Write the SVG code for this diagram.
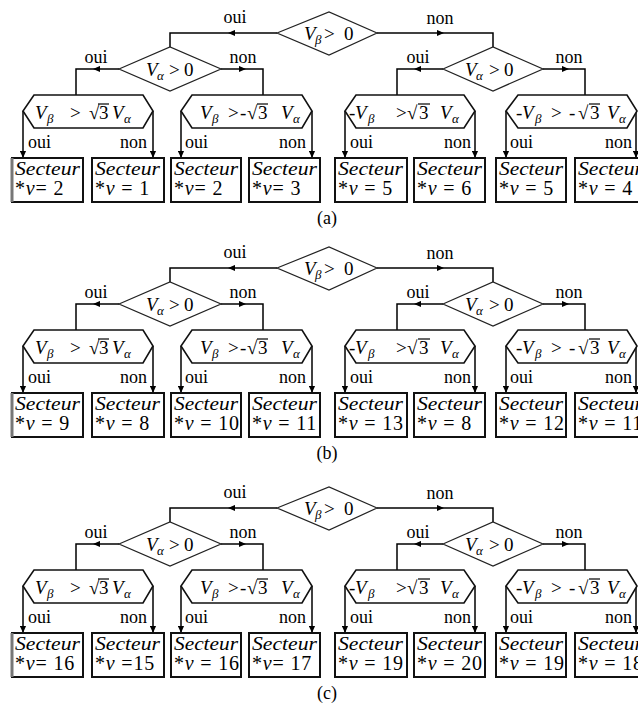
<svg xmlns="http://www.w3.org/2000/svg" width="638" height="704" viewBox="0 0 638 704">
<defs>
<style>
.ln{fill:none;stroke:#000;stroke-width:1.5}
.dm{fill:#fff;stroke:#222;stroke-width:1.2}
.hx{fill:#fff;stroke:#111;stroke-width:1.6}
.bx{fill:#fff;stroke:#111;stroke-width:2}
.ov{stroke:#000;stroke-width:1.2}
.t{font-family:"Liberation Serif","Times New Roman",serif;fill:#000}
.lab{font-size:18px}
.ex{font-size:19px}
.it{font-style:italic}
.sub{font-size:13px;font-style:italic}
.sec{font-size:18px;font-style:italic}
.num{font-size:20px;letter-spacing:0.8px}
.cap{font-size:18px}
</style>
<marker id="ah" viewBox="0 0 8 8" refX="8" refY="4" markerWidth="7" markerHeight="7" markerUnits="userSpaceOnUse" orient="auto"><path d="M0,0.5 L8,4 L0,7.5 z" fill="#000"/></marker>
</defs>
<rect width="638" height="704" fill="#fff"/>

<!-- ===== Panel (a) ===== -->
<g id="panel-a">
<g id="a-connectors">
<path class="ln" d="M277,33 H228" marker-end="url(#ah)"/><path class="ln" d="M228,33 H170 V47"/>
<path class="ln" d="M377,33 H444" marker-end="url(#ah)"/><path class="ln" d="M444,33 H493 V47"/>
<path class="ln" d="M119,69 H93" marker-end="url(#ah)"/><path class="ln" d="M93,69 H76 V95"/>
<path class="ln" d="M221,69 H246" marker-end="url(#ah)"/><path class="ln" d="M246,69 H263 V95"/>
<path class="ln" d="M443,69 H414" marker-end="url(#ah)"/><path class="ln" d="M414,69 H397 V95"/>
<path class="ln" d="M543,69 H569" marker-end="url(#ah)"/><path class="ln" d="M569,69 H585 V95"/>
<path class="ln" d="M23,111 V158" marker-end="url(#ah)"/>
<path class="ln" d="M153,111 V158" marker-end="url(#ah)"/>
<path class="ln" d="M181,111 V158" marker-end="url(#ah)"/>
<path class="ln" d="M312,111 V158" marker-end="url(#ah)"/>
<path class="ln" d="M345,111 V158" marker-end="url(#ah)"/>
<path class="ln" d="M475,111 V158" marker-end="url(#ah)"/>
<path class="ln" d="M506,111 V158" marker-end="url(#ah)"/>
<path class="ln" d="M636,111 V158" marker-end="url(#ah)"/>
<text class="t lab" x="235" y="23" text-anchor="middle">oui</text>
<text class="t lab" x="440" y="24" text-anchor="middle">non</text>
<text class="t lab" x="96" y="63" text-anchor="middle">oui</text>
<text class="t lab" x="243" y="63" text-anchor="middle">non</text>
<text class="t lab" x="418" y="63" text-anchor="middle">oui</text>
<text class="t lab" x="569" y="63" text-anchor="middle">non</text>
<text class="t lab" x="28" y="148">oui</text><text class="t lab" x="147" y="148" text-anchor="end">non</text>
<text class="t lab" x="185" y="148">oui</text><text class="t lab" x="306" y="148" text-anchor="end">non</text>
<text class="t lab" x="350" y="148">oui</text><text class="t lab" x="471" y="148" text-anchor="end">non</text>
<text class="t lab" x="510" y="148">oui</text><text class="t lab" x="632" y="148" text-anchor="end">non</text>
</g>
<g id="a-d0"><polygon class="dm" points="277,33 329,12 377,33 329,55"/>
<text class="t ex" y="40"><tspan class="it" x="304">V</tspan><tspan class="sub" x="315" y="44">β</tspan><tspan x="324" y="40">&gt;</tspan><tspan x="344">0</tspan></text></g>
<g id="a-d1"><polygon class="dm" points="119,69 170,47 221,69 170,91"/>
<text class="t ex" y="76"><tspan class="it" x="146">V</tspan><tspan class="sub" x="157" y="80">α</tspan><tspan x="169" y="76">&gt;</tspan><tspan x="184">0</tspan></text></g>
<g id="a-d2"><polygon class="dm" points="443,69 493,47 543,69 493,91"/>
<text class="t ex" y="76"><tspan class="it" x="465">V</tspan><tspan class="sub" x="476" y="80">α</tspan><tspan x="489" y="76">&gt;</tspan><tspan x="504">0</tspan></text></g>
<g id="a-h1"><polygon class="hx" points="34,95 143,95 153,111 143,128 34,128 23,111"/>
<text class="t ex" y="119"><tspan class="it" x="35">V</tspan><tspan class="sub" x="47" y="123">β</tspan><tspan x="70" y="119">&gt;</tspan><tspan x="89">√</tspan><tspan x="99">3</tspan><tspan class="it" x="112">V</tspan><tspan class="sub" x="124" y="123">α</tspan></text>
<line class="ov" x1="98" y1="104" x2="109" y2="104"/></g>
<g id="a-h2"><polygon class="hx" points="192,95 302,95 312,111 302,128 192,128 181,111"/>
<text class="t ex" y="119"><tspan class="it" x="200">V</tspan><tspan class="sub" x="212" y="123">β</tspan><tspan x="228" y="119">&gt;</tspan><tspan x="240">-</tspan><tspan x="247">√</tspan><tspan x="258">3</tspan><tspan class="it" x="281">V</tspan><tspan class="sub" x="293" y="123">α</tspan></text>
<line class="ov" x1="257" y1="104" x2="268" y2="104"/></g>
<g id="a-h3"><polygon class="hx" points="356,95 464,95 475,111 464,128 356,128 345,111"/>
<text class="t ex" y="119"><tspan x="349">-</tspan><tspan class="it" x="355">V</tspan><tspan class="sub" x="368" y="123">β</tspan><tspan x="396" y="119">&gt;</tspan><tspan x="407">√</tspan><tspan x="419">3</tspan><tspan class="it" x="440">V</tspan><tspan class="sub" x="452" y="123">α</tspan></text>
<line class="ov" x1="418" y1="104" x2="430" y2="104"/></g>
<g id="a-h4"><polygon class="hx" points="518,95 627,95 637,111 627,128 518,128 506,111"/>
<text class="t ex" y="119"><tspan x="516">-</tspan><tspan class="it" x="522">V</tspan><tspan class="sub" x="535" y="123">β</tspan><tspan x="551" y="119">&gt;</tspan><tspan x="569">-</tspan><tspan x="578">√</tspan><tspan x="590">3</tspan><tspan class="it" x="607">V</tspan><tspan class="sub" x="619" y="123">α</tspan></text>
<line class="ov" x1="589" y1="104" x2="600" y2="104"/></g>
<g id="a-b1"><rect class="bx" x="12" y="158" width="71" height="44"/><line x1="12" y1="158" x2="12" y2="202" stroke="#777" stroke-width="3"/>
<text class="t sec" x="15" y="175" textLength="65" lengthAdjust="spacingAndGlyphs">Secteur</text><text class="t num" x="15" y="195">*<tspan class="it">v</tspan>= 2</text></g>
<g id="a-b2"><rect class="bx" x="92" y="158" width="72" height="44"/>
<text class="t sec" x="95" y="175" textLength="65" lengthAdjust="spacingAndGlyphs">Secteur</text><text class="t num" x="95" y="195">*<tspan class="it">v</tspan> = 1</text></g>
<g id="a-b3"><rect class="bx" x="171" y="158" width="70" height="44"/>
<text class="t sec" x="174" y="175" textLength="64" lengthAdjust="spacingAndGlyphs">Secteur</text><text class="t num" x="174" y="195">*<tspan class="it">v</tspan>= 2</text></g>
<g id="a-b4"><rect class="bx" x="249" y="158" width="71" height="44"/>
<text class="t sec" x="252" y="175" textLength="65" lengthAdjust="spacingAndGlyphs">Secteur</text><text class="t num" x="252" y="195">*<tspan class="it">v</tspan>= 3</text></g>
<g id="a-b5"><rect class="bx" x="335" y="158" width="72" height="44"/>
<text class="t sec" x="338" y="175" textLength="65" lengthAdjust="spacingAndGlyphs">Secteur</text><text class="t num" x="338" y="195">*<tspan class="it">v</tspan> = 5</text></g>
<g id="a-b6"><rect class="bx" x="414" y="158" width="71" height="44"/>
<text class="t sec" x="417" y="175" textLength="65" lengthAdjust="spacingAndGlyphs">Secteur</text><text class="t num" x="417" y="195">*<tspan class="it">v</tspan> = 6</text></g>
<g id="a-b7"><rect class="bx" x="496" y="158" width="70" height="44"/>
<text class="t sec" x="499" y="175" textLength="64" lengthAdjust="spacingAndGlyphs">Secteur</text><text class="t num" x="499" y="195">*<tspan class="it">v</tspan> = 5</text></g>
<g id="a-b8"><rect class="bx" x="575" y="158" width="72" height="44"/>
<text class="t sec" x="578" y="175" textLength="65" lengthAdjust="spacingAndGlyphs">Secteur</text><text class="t num" x="578" y="195">*<tspan class="it">v</tspan> = 4</text></g>
<text class="t cap" x="327" y="224" text-anchor="middle">(a)</text>
</g>

<!-- ===== Panel (b) ===== -->
<g id="panel-b" transform="translate(0,235)">
<g id="b-connectors">
<path class="ln" d="M277,33 H228" marker-end="url(#ah)"/><path class="ln" d="M228,33 H170 V47"/>
<path class="ln" d="M377,33 H444" marker-end="url(#ah)"/><path class="ln" d="M444,33 H493 V47"/>
<path class="ln" d="M119,69 H93" marker-end="url(#ah)"/><path class="ln" d="M93,69 H76 V95"/>
<path class="ln" d="M221,69 H246" marker-end="url(#ah)"/><path class="ln" d="M246,69 H263 V95"/>
<path class="ln" d="M443,69 H414" marker-end="url(#ah)"/><path class="ln" d="M414,69 H397 V95"/>
<path class="ln" d="M543,69 H569" marker-end="url(#ah)"/><path class="ln" d="M569,69 H585 V95"/>
<path class="ln" d="M23,111 V158" marker-end="url(#ah)"/>
<path class="ln" d="M153,111 V158" marker-end="url(#ah)"/>
<path class="ln" d="M181,111 V158" marker-end="url(#ah)"/>
<path class="ln" d="M312,111 V158" marker-end="url(#ah)"/>
<path class="ln" d="M345,111 V158" marker-end="url(#ah)"/>
<path class="ln" d="M475,111 V158" marker-end="url(#ah)"/>
<path class="ln" d="M506,111 V158" marker-end="url(#ah)"/>
<path class="ln" d="M636,111 V158" marker-end="url(#ah)"/>
<text class="t lab" x="235" y="23" text-anchor="middle">oui</text>
<text class="t lab" x="440" y="24" text-anchor="middle">non</text>
<text class="t lab" x="96" y="63" text-anchor="middle">oui</text>
<text class="t lab" x="243" y="63" text-anchor="middle">non</text>
<text class="t lab" x="418" y="63" text-anchor="middle">oui</text>
<text class="t lab" x="569" y="63" text-anchor="middle">non</text>
<text class="t lab" x="28" y="148">oui</text><text class="t lab" x="147" y="148" text-anchor="end">non</text>
<text class="t lab" x="185" y="148">oui</text><text class="t lab" x="306" y="148" text-anchor="end">non</text>
<text class="t lab" x="350" y="148">oui</text><text class="t lab" x="471" y="148" text-anchor="end">non</text>
<text class="t lab" x="510" y="148">oui</text><text class="t lab" x="632" y="148" text-anchor="end">non</text>
</g>
<g id="b-d0"><polygon class="dm" points="277,33 329,12 377,33 329,55"/>
<text class="t ex" y="40"><tspan class="it" x="304">V</tspan><tspan class="sub" x="315" y="44">β</tspan><tspan x="324" y="40">&gt;</tspan><tspan x="344">0</tspan></text></g>
<g id="b-d1"><polygon class="dm" points="119,69 170,47 221,69 170,91"/>
<text class="t ex" y="76"><tspan class="it" x="146">V</tspan><tspan class="sub" x="157" y="80">α</tspan><tspan x="169" y="76">&gt;</tspan><tspan x="184">0</tspan></text></g>
<g id="b-d2"><polygon class="dm" points="443,69 493,47 543,69 493,91"/>
<text class="t ex" y="76"><tspan class="it" x="465">V</tspan><tspan class="sub" x="476" y="80">α</tspan><tspan x="489" y="76">&gt;</tspan><tspan x="504">0</tspan></text></g>
<g id="b-h1"><polygon class="hx" points="34,95 143,95 153,111 143,128 34,128 23,111"/>
<text class="t ex" y="119"><tspan class="it" x="35">V</tspan><tspan class="sub" x="47" y="123">β</tspan><tspan x="70" y="119">&gt;</tspan><tspan x="89">√</tspan><tspan x="99">3</tspan><tspan class="it" x="112">V</tspan><tspan class="sub" x="124" y="123">α</tspan></text>
<line class="ov" x1="98" y1="104" x2="109" y2="104"/></g>
<g id="b-h2"><polygon class="hx" points="192,95 302,95 312,111 302,128 192,128 181,111"/>
<text class="t ex" y="119"><tspan class="it" x="200">V</tspan><tspan class="sub" x="212" y="123">β</tspan><tspan x="228" y="119">&gt;</tspan><tspan x="240">-</tspan><tspan x="247">√</tspan><tspan x="258">3</tspan><tspan class="it" x="281">V</tspan><tspan class="sub" x="293" y="123">α</tspan></text>
<line class="ov" x1="257" y1="104" x2="268" y2="104"/></g>
<g id="b-h3"><polygon class="hx" points="356,95 464,95 475,111 464,128 356,128 345,111"/>
<text class="t ex" y="119"><tspan x="349">-</tspan><tspan class="it" x="355">V</tspan><tspan class="sub" x="368" y="123">β</tspan><tspan x="396" y="119">&gt;</tspan><tspan x="407">√</tspan><tspan x="419">3</tspan><tspan class="it" x="440">V</tspan><tspan class="sub" x="452" y="123">α</tspan></text>
<line class="ov" x1="418" y1="104" x2="430" y2="104"/></g>
<g id="b-h4"><polygon class="hx" points="518,95 627,95 637,111 627,128 518,128 506,111"/>
<text class="t ex" y="119"><tspan x="516">-</tspan><tspan class="it" x="522">V</tspan><tspan class="sub" x="535" y="123">β</tspan><tspan x="551" y="119">&gt;</tspan><tspan x="569">-</tspan><tspan x="578">√</tspan><tspan x="590">3</tspan><tspan class="it" x="607">V</tspan><tspan class="sub" x="619" y="123">α</tspan></text>
<line class="ov" x1="589" y1="104" x2="600" y2="104"/></g>
<g id="b-b1"><rect class="bx" x="12" y="158" width="71" height="44"/><line x1="12" y1="158" x2="12" y2="202" stroke="#777" stroke-width="3"/>
<text class="t sec" x="15" y="175" textLength="65" lengthAdjust="spacingAndGlyphs">Secteur</text><text class="t num" x="15" y="195">*<tspan class="it">v</tspan> = 9</text></g>
<g id="b-b2"><rect class="bx" x="92" y="158" width="72" height="44"/>
<text class="t sec" x="95" y="175" textLength="65" lengthAdjust="spacingAndGlyphs">Secteur</text><text class="t num" x="95" y="195">*<tspan class="it">v</tspan> = 8</text></g>
<g id="b-b3"><rect class="bx" x="171" y="158" width="70" height="44"/>
<text class="t sec" x="174" y="175" textLength="64" lengthAdjust="spacingAndGlyphs">Secteur</text><text class="t num" x="174" y="195">*<tspan class="it">v</tspan> = 10</text></g>
<g id="b-b4"><rect class="bx" x="249" y="158" width="71" height="44"/>
<text class="t sec" x="252" y="175" textLength="65" lengthAdjust="spacingAndGlyphs">Secteur</text><text class="t num" x="252" y="195">*<tspan class="it">v</tspan> = 11</text></g>
<g id="b-b5"><rect class="bx" x="335" y="158" width="72" height="44"/>
<text class="t sec" x="338" y="175" textLength="65" lengthAdjust="spacingAndGlyphs">Secteur</text><text class="t num" x="338" y="195">*<tspan class="it">v</tspan> = 13</text></g>
<g id="b-b6"><rect class="bx" x="414" y="158" width="71" height="44"/>
<text class="t sec" x="417" y="175" textLength="65" lengthAdjust="spacingAndGlyphs">Secteur</text><text class="t num" x="417" y="195">*<tspan class="it">v</tspan> = 8</text></g>
<g id="b-b7"><rect class="bx" x="496" y="158" width="70" height="44"/>
<text class="t sec" x="499" y="175" textLength="64" lengthAdjust="spacingAndGlyphs">Secteur</text><text class="t num" x="499" y="195">*<tspan class="it">v</tspan> = 12</text></g>
<g id="b-b8"><rect class="bx" x="575" y="158" width="72" height="44"/>
<text class="t sec" x="578" y="175" textLength="65" lengthAdjust="spacingAndGlyphs">Secteur</text><text class="t num" x="578" y="195">*<tspan class="it">v</tspan> = 11</text></g>
<text class="t cap" x="327" y="224" text-anchor="middle">(b)</text>
</g>

<!-- ===== Panel (c) ===== -->
<g id="panel-c" transform="translate(0,475)">
<g id="c-connectors">
<path class="ln" d="M277,33 H228" marker-end="url(#ah)"/><path class="ln" d="M228,33 H170 V47"/>
<path class="ln" d="M377,33 H444" marker-end="url(#ah)"/><path class="ln" d="M444,33 H493 V47"/>
<path class="ln" d="M119,69 H93" marker-end="url(#ah)"/><path class="ln" d="M93,69 H76 V95"/>
<path class="ln" d="M221,69 H246" marker-end="url(#ah)"/><path class="ln" d="M246,69 H263 V95"/>
<path class="ln" d="M443,69 H414" marker-end="url(#ah)"/><path class="ln" d="M414,69 H397 V95"/>
<path class="ln" d="M543,69 H569" marker-end="url(#ah)"/><path class="ln" d="M569,69 H585 V95"/>
<path class="ln" d="M23,111 V158" marker-end="url(#ah)"/>
<path class="ln" d="M153,111 V158" marker-end="url(#ah)"/>
<path class="ln" d="M181,111 V158" marker-end="url(#ah)"/>
<path class="ln" d="M312,111 V158" marker-end="url(#ah)"/>
<path class="ln" d="M345,111 V158" marker-end="url(#ah)"/>
<path class="ln" d="M475,111 V158" marker-end="url(#ah)"/>
<path class="ln" d="M506,111 V158" marker-end="url(#ah)"/>
<path class="ln" d="M636,111 V158" marker-end="url(#ah)"/>
<text class="t lab" x="235" y="23" text-anchor="middle">oui</text>
<text class="t lab" x="440" y="24" text-anchor="middle">non</text>
<text class="t lab" x="96" y="63" text-anchor="middle">oui</text>
<text class="t lab" x="243" y="63" text-anchor="middle">non</text>
<text class="t lab" x="418" y="63" text-anchor="middle">oui</text>
<text class="t lab" x="569" y="63" text-anchor="middle">non</text>
<text class="t lab" x="28" y="148">oui</text><text class="t lab" x="147" y="148" text-anchor="end">non</text>
<text class="t lab" x="185" y="148">oui</text><text class="t lab" x="306" y="148" text-anchor="end">non</text>
<text class="t lab" x="350" y="148">oui</text><text class="t lab" x="471" y="148" text-anchor="end">non</text>
<text class="t lab" x="510" y="148">oui</text><text class="t lab" x="632" y="148" text-anchor="end">non</text>
</g>
<g id="c-d0"><polygon class="dm" points="277,33 329,12 377,33 329,55"/>
<text class="t ex" y="40"><tspan class="it" x="304">V</tspan><tspan class="sub" x="315" y="44">β</tspan><tspan x="324" y="40">&gt;</tspan><tspan x="344">0</tspan></text></g>
<g id="c-d1"><polygon class="dm" points="119,69 170,47 221,69 170,91"/>
<text class="t ex" y="76"><tspan class="it" x="146">V</tspan><tspan class="sub" x="157" y="80">α</tspan><tspan x="169" y="76">&gt;</tspan><tspan x="184">0</tspan></text></g>
<g id="c-d2"><polygon class="dm" points="443,69 493,47 543,69 493,91"/>
<text class="t ex" y="76"><tspan class="it" x="465">V</tspan><tspan class="sub" x="476" y="80">α</tspan><tspan x="489" y="76">&gt;</tspan><tspan x="504">0</tspan></text></g>
<g id="c-h1"><polygon class="hx" points="34,95 143,95 153,111 143,128 34,128 23,111"/>
<text class="t ex" y="119"><tspan class="it" x="35">V</tspan><tspan class="sub" x="47" y="123">β</tspan><tspan x="70" y="119">&gt;</tspan><tspan x="89">√</tspan><tspan x="99">3</tspan><tspan class="it" x="112">V</tspan><tspan class="sub" x="124" y="123">α</tspan></text>
<line class="ov" x1="98" y1="104" x2="109" y2="104"/></g>
<g id="c-h2"><polygon class="hx" points="192,95 302,95 312,111 302,128 192,128 181,111"/>
<text class="t ex" y="119"><tspan class="it" x="200">V</tspan><tspan class="sub" x="212" y="123">β</tspan><tspan x="228" y="119">&gt;</tspan><tspan x="240">-</tspan><tspan x="247">√</tspan><tspan x="258">3</tspan><tspan class="it" x="281">V</tspan><tspan class="sub" x="293" y="123">α</tspan></text>
<line class="ov" x1="257" y1="104" x2="268" y2="104"/></g>
<g id="c-h3"><polygon class="hx" points="356,95 464,95 475,111 464,128 356,128 345,111"/>
<text class="t ex" y="119"><tspan x="349">-</tspan><tspan class="it" x="355">V</tspan><tspan class="sub" x="368" y="123">β</tspan><tspan x="396" y="119">&gt;</tspan><tspan x="407">√</tspan><tspan x="419">3</tspan><tspan class="it" x="440">V</tspan><tspan class="sub" x="452" y="123">α</tspan></text>
<line class="ov" x1="418" y1="104" x2="430" y2="104"/></g>
<g id="c-h4"><polygon class="hx" points="518,95 627,95 637,111 627,128 518,128 506,111"/>
<text class="t ex" y="119"><tspan x="516">-</tspan><tspan class="it" x="522">V</tspan><tspan class="sub" x="535" y="123">β</tspan><tspan x="551" y="119">&gt;</tspan><tspan x="569">-</tspan><tspan x="578">√</tspan><tspan x="590">3</tspan><tspan class="it" x="607">V</tspan><tspan class="sub" x="619" y="123">α</tspan></text>
<line class="ov" x1="589" y1="104" x2="600" y2="104"/></g>
<g id="c-b1"><rect class="bx" x="12" y="158" width="71" height="44"/><line x1="12" y1="158" x2="12" y2="202" stroke="#777" stroke-width="3"/>
<text class="t sec" x="15" y="175" textLength="65" lengthAdjust="spacingAndGlyphs">Secteur</text><text class="t num" x="15" y="195">*<tspan class="it">v</tspan>= 16</text></g>
<g id="c-b2"><rect class="bx" x="92" y="158" width="72" height="44"/>
<text class="t sec" x="95" y="175" textLength="65" lengthAdjust="spacingAndGlyphs">Secteur</text><text class="t num" x="95" y="195">*<tspan class="it">v</tspan> =15</text></g>
<g id="c-b3"><rect class="bx" x="171" y="158" width="70" height="44"/>
<text class="t sec" x="174" y="175" textLength="64" lengthAdjust="spacingAndGlyphs">Secteur</text><text class="t num" x="174" y="195">*<tspan class="it">v</tspan> = 16</text></g>
<g id="c-b4"><rect class="bx" x="249" y="158" width="71" height="44"/>
<text class="t sec" x="252" y="175" textLength="65" lengthAdjust="spacingAndGlyphs">Secteur</text><text class="t num" x="252" y="195">*<tspan class="it">v</tspan>= 17</text></g>
<g id="c-b5"><rect class="bx" x="335" y="158" width="72" height="44"/>
<text class="t sec" x="338" y="175" textLength="65" lengthAdjust="spacingAndGlyphs">Secteur</text><text class="t num" x="338" y="195">*<tspan class="it">v</tspan> = 19</text></g>
<g id="c-b6"><rect class="bx" x="414" y="158" width="71" height="44"/>
<text class="t sec" x="417" y="175" textLength="65" lengthAdjust="spacingAndGlyphs">Secteur</text><text class="t num" x="417" y="195">*<tspan class="it">v</tspan> = 20</text></g>
<g id="c-b7"><rect class="bx" x="496" y="158" width="70" height="44"/>
<text class="t sec" x="499" y="175" textLength="64" lengthAdjust="spacingAndGlyphs">Secteur</text><text class="t num" x="499" y="195">*<tspan class="it">v</tspan> = 19</text></g>
<g id="c-b8"><rect class="bx" x="575" y="158" width="72" height="44"/>
<text class="t sec" x="578" y="175" textLength="65" lengthAdjust="spacingAndGlyphs">Secteur</text><text class="t num" x="578" y="195">*<tspan class="it">v</tspan> = 18</text></g>
<text class="t cap" x="327" y="224" text-anchor="middle">(c)</text>
</g>
</svg>
